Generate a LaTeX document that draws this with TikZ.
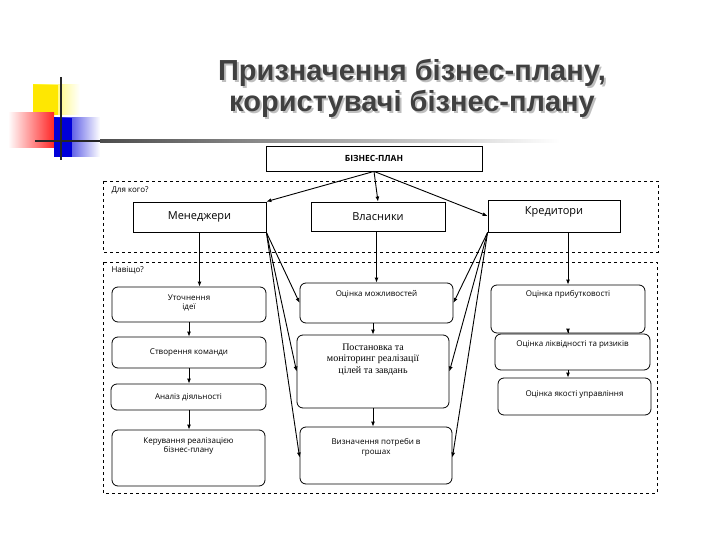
\documentclass[tikz,border=0pt]{standalone}
\usepackage{fontspec}
\setmainfont{Open Sans}
\newfontfamily\ttl{Liberation Sans}
\newfontfamily\srf{Liberation Serif}
\usetikzlibrary{arrows.meta,calc}
\begin{document}
\begin{tikzpicture}[x=1pt,y=-1pt,
 bx/.style={draw,line width=0.8pt},
 rb/.style={draw,line width=0.8pt,rounded corners=6pt},
 grp/.style={draw,dashed,line width=0.6pt},
 tx/.style={font=\fontsize{8}{9.5}\selectfont,align=center},
 ttlst/.style={font=\ttl\bfseries\fontsize{29}{31}\selectfont,align=center},
 ar/.style={-{Latex[length=5pt,width=4pt]},line width=0.9pt}]
\useasboundingbox (0,0) rectangle (720,540);
% logo
\shade[left color=yellow!90!orange,right color=white] (33,85) rectangle (80,115);
\fill[yellow!90!orange] (33,85) rectangle (58,115);
\shade[left color=white,right color=red!85] (8,113) rectangle (54,148);
\shade[left color=blue!85!black,right color=white] (54,118) rectangle (100,157);
\fill[blue!85!black] (54,118) rectangle (72,157);
\draw[line width=1.5pt,black!85] (61,77) -- (61,160);
\draw[line width=1.5pt,black!85] (35,141) -- (120,141);
\shade[left color=black!70,right color=white] (100,140) rectangle (560,143);
% title
\node[ttlst,text=black!25] (titles) at (414,90) {Призначення бізнес-плану,\\користувачі бізнес-плану};
\node[ttlst,text=black!75] (title) at (412,88) {Призначення бізнес-плану,\\користувачі бізнес-плану};
% groups
\draw[grp] (103,181) rectangle (658,252);
\draw[grp] (103,262) rectangle (657,493);
\node[tx,anchor=west] (g1) at (108,190) {Для кого?};
\node[tx,anchor=west] (g2) at (108,270) {Навіщо?};
% top
\node[bx,minimum width=216pt,minimum height=25pt,font=\bfseries\fontsize{8.5}{10}\selectfont] (bp) at (374,158.5) {БІЗНЕС-ПЛАН};
\node[bx,minimum width=133pt,minimum height=30pt,font=\fontsize{11}{13}\selectfont] (m) at (199.5,217) {Менеджери};
\node[bx,minimum width=134pt,minimum height=29pt,font=\fontsize{11}{13}\selectfont] (v) at (378,216.5) {Власники};
\node[bx,minimum width=132pt,minimum height=32pt] (k) at (554,216) {};
\node[font=\fontsize{11}{13}\selectfont] (kt) at (554,212) {Кредитори};
% left column
\node[rb,minimum width=154pt,minimum height=35pt] (a1) at (189,304.5) {};
\node[tx] (a1t) at (189,303) {Уточнення\\ідеї};
\node[rb,minimum width=154pt,minimum height=31pt,tx] (a2) at (189,352.5) {Створення команди};
\node[rb,minimum width=155pt,minimum height=26pt,tx] (a3) at (188.5,397) {Аналіз діяльності};
\node[rb,minimum width=153pt,minimum height=56pt] (a4) at (188.5,458) {};
\node[tx,anchor=north] (a4t) at (188.5,434) {Керування реалізацією\\бізнес-плану};
% middle
\node[rb,minimum width=153pt,minimum height=40pt] (b1) at (376.5,303) {};
\node[tx,anchor=north] (b1t) at (376.5,287) {Оцінка можливостей};
\node[rb,minimum width=152pt,minimum height=73pt] (b2) at (373,371.5) {};
\node[font=\srf\fontsize{10}{11.5}\selectfont,align=center,anchor=north] (b2t) at (373,340) {Постановка та\\моніторинг реалізації\\цілей та завдань};
\node[rb,minimum width=152pt,minimum height=57pt] (b3) at (376,455.5) {};
\node[tx,anchor=north] (b3t) at (376,435) {Визначення потреби в\\грошах};
% right
\node[rb,minimum width=154pt,minimum height=48pt] (c1) at (568,309) {};
\node[tx,anchor=north] (c1t) at (568,287) {Оцінка прибутковості};
\node[rb,minimum width=155pt,minimum height=36pt] (c2) at (572.5,352) {};
\node[tx,anchor=north] (c2t) at (572.5,337) {Оцінка ліквідності та ризиків};
\node[rb,minimum width=153pt,minimum height=37pt] (c3) at (574.5,396.5) {};
\node[tx,anchor=north] (c3t) at (574.5,387) {Оцінка якості управління};
% arrows
\draw[ar] (bp.south) -- (m.north east);
\draw[ar] (bp.south) -- (v.north);
\draw[ar] (bp.south) -- (k.west);
\draw[ar] (m.south) -- (m.south|-a1.north);
\draw[ar] (a1.south-|a1t) -- (a1t|-a2.north);
\draw[ar] (a1t|-a2.south) -- (a1t|-a3.north);
\draw[ar] (a1t|-a3.south) -- (a1t|-a4.north);
\draw[ar] (v.south-|b1t) -- (b1.north);
\draw[ar] (b1.south-|b2.center) -- (b2.north);
\draw[ar] (b2.south) -- (b2.south|-b3.north);
\draw[ar] (k.south-|c1.center) -- (c1.north);
\draw[ar] (c1.south-|c1.center) -- (c1.center|-c2.north);
\draw[ar] (c1.center|-c2.south) -- (c1.center|-c3.north);
\draw[ar] (m.south east) -- (b1.west);
\draw[ar] (m.south east) -- (b2.west);
\draw[ar] (m.south east) -- ($(b3.west)+(0,2)$);
\draw[ar] (k.south west) -- (b1.east);
\draw[ar] (k.south west) -- (b2.east);
\draw[ar] (k.south west) -- ($(b3.east)+(0,2)$);
\end{tikzpicture}
\end{document}
